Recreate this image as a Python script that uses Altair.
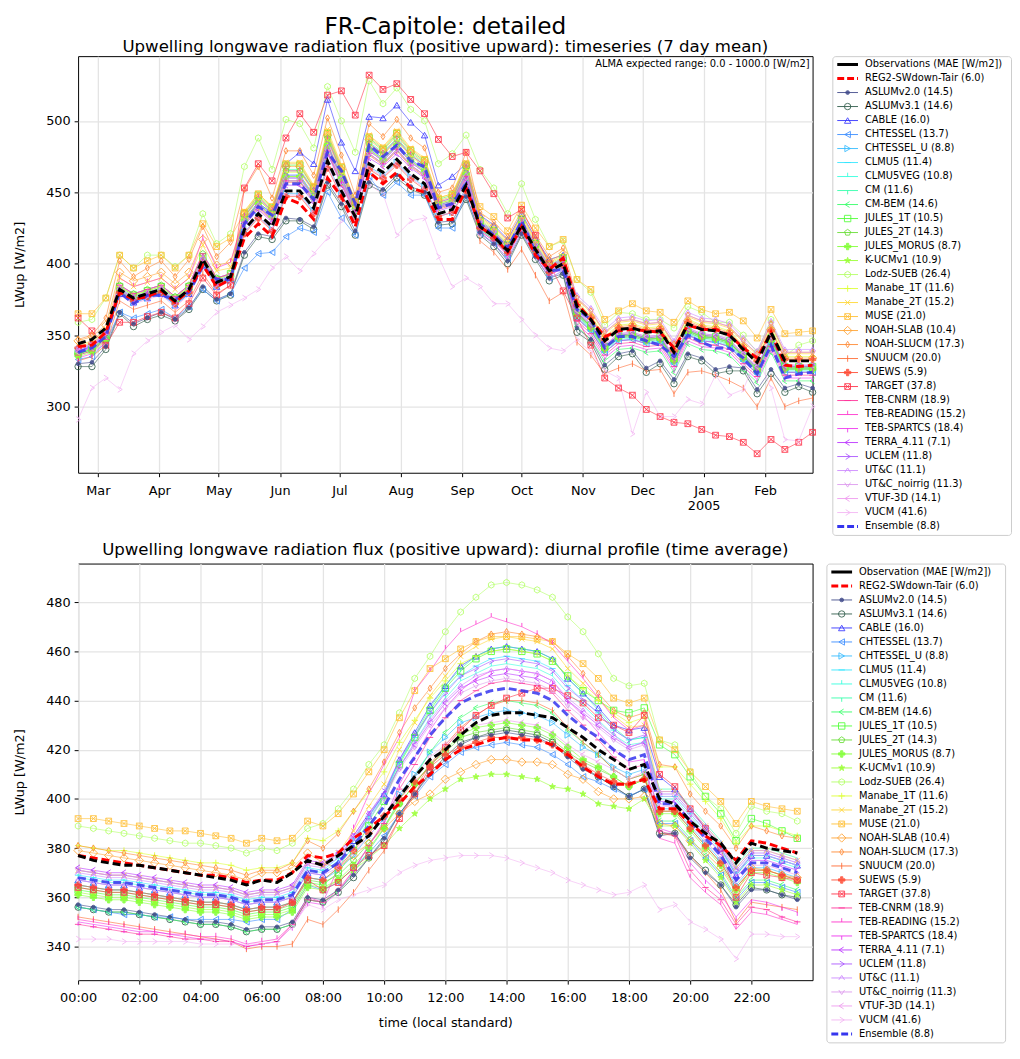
import altair as alt
import pandas as pd

# ---------------- timeseries (7 day means, 54 weeks) ----------------
ts_obs = [344,347,355,382,376,379,382,374,382,403,387,391,424,435,426,451,451,439,472,451,433,470,464,473,463,456,435,438,455,426,419,409,427,410,395,400,370,361,346,354,355,352,353,338,358,354,353,350,340,331,352,332,332,332]
ts_reg2 = [342,343,352,380,375,377,381,373,381,399,384,389,418,428,419,446,442,431,460,447,426,464,456,464,453,450,431,431,453,426,419,408,426,406,396,404,372,361,349,353,354,353,352,341,357,354,354,350,341,334,352,329,328,329]
ts_ens = [338,341,349,380,372,378,378,375,380,398,389,389,428,440,434,456,456,445,478,465,442,483,475,483,472,468,439,442,456,428,420,411,430,408,395,396,368,361,341,349,349,346,343,335,350,345,341,341,334,323,343,320,323,324]
ts_aslum20 = [330,331,342,366,358,362,366,361,369,384,375,379,408,421,419,432,431,426,457,442,423,457,452,462,454,450,429,430,447,422,414,402,421,405,390,393,355,347,329,337,339,327,332,319,337,334,326,328,327,312,326,313,316,313]
ts_aslum31 = [328,328,340,365,356,361,364,360,368,382,374,378,406,419,417,430,430,424,455,440,420,455,450,460,452,448,427,428,445,420,412,400,420,403,388,392,352,345,326,335,337,324,330,316,335,332,323,325,325,309,323,310,314,310]
ts_cable = [339,342,350,379,373,376,379,371,379,399,384,389,430,442,436,470,478,470,515,485,465,503,502,511,499,490,455,461,470,434,427,417,435,418,403,406,365,356,341,349,350,347,348,333,353,349,348,345,335,326,347,327,327,327]
ts_chtessel = [333,335,345,366,362,365,368,362,370,382,374,379,397,407,408,419,425,422,450,432,420,461,448,457,448,448,425,425,448,421,414,404,422,405,390,395,362,353,338,346,347,344,345,330,350,346,345,342,332,323,344,324,324,324]
ts_chtessel_u = [339,342,350,379,373,376,379,371,379,399,384,388,422,433,424,449,449,437,470,449,431,468,462,471,461,454,433,436,453,424,417,407,425,408,393,398,364,355,340,348,349,346,347,332,352,348,347,344,334,325,346,326,326,326]
ts_clmu5 = [338,341,349,382,376,379,382,374,382,403,387,391,431,443,434,462,462,448,484,461,439,481,474,484,473,466,441,444,464,428,421,411,429,412,397,402,362,353,338,346,347,344,345,330,350,346,345,342,332,323,344,324,324,324]
ts_clmu5veg = [337,340,348,381,375,378,381,373,381,402,386,390,430,441,432,460,460,446,482,459,438,479,472,482,471,464,440,443,462,427,420,410,428,411,396,401,363,354,339,347,348,345,346,331,351,347,346,343,333,324,345,325,325,325]
ts_cm = [338,341,349,383,377,380,383,375,383,404,388,392,434,446,437,466,466,452,489,465,441,485,478,488,477,470,443,446,468,429,422,412,430,413,398,403,365,356,341,349,350,347,348,333,353,349,348,345,335,326,347,327,327,327]
ts_cmbem = [337,340,348,380,374,377,380,372,380,401,385,389,428,440,431,458,458,444,479,457,437,477,470,480,469,462,439,442,460,424,417,407,425,408,393,398,356,347,332,340,341,338,339,324,344,340,339,336,326,317,338,318,318,318]
ts_jules1t = [337,340,348,384,378,381,384,376,384,405,389,393,435,448,439,469,469,453,491,467,443,488,480,491,479,472,445,448,469,430,423,413,431,414,399,404,366,357,342,350,351,348,349,334,354,350,349,346,336,327,348,328,328,328]
ts_jules2t = [336,339,347,385,379,382,385,377,385,407,390,393,433,445,436,465,465,451,488,464,440,484,477,487,476,469,442,445,467,429,422,412,430,413,398,403,365,356,341,349,350,347,348,333,353,349,348,345,335,326,347,327,327,327]
ts_julesmorus = [337,340,348,382,376,379,382,374,382,403,387,391,430,442,433,461,461,447,483,460,438,480,473,483,472,465,440,443,463,428,421,411,429,412,397,402,364,355,340,348,349,346,347,332,352,348,347,344,334,325,346,326,326,326]
ts_kucm = [335,338,346,381,375,378,381,373,381,402,386,390,431,442,433,461,461,447,483,460,439,480,473,483,472,465,441,444,463,427,420,410,428,411,396,401,365,356,341,349,350,347,348,333,353,349,348,345,335,326,347,327,327,327]
ts_lodz = [359,361,376,406,397,406,406,398,406,435,414,421,468,488,466,501,498,481,524,500,478,528,512,523,508,500,470,477,490,466,453,435,456,431,412,416,389,380,357,366,365,361,361,355,370,366,359,359,350,338,361,335,343,346]
ts_manabe1t = [342,345,353,384,378,381,384,376,384,405,389,393,432,445,436,464,464,450,486,463,440,483,476,486,475,468,442,445,466,431,424,414,432,415,400,405,373,364,349,357,358,355,356,341,361,357,356,353,343,334,355,335,335,335]
ts_manabe2t = [343,346,354,390,384,387,390,382,390,413,395,397,437,449,440,471,471,455,494,469,444,490,482,493,481,474,446,449,471,432,425,415,433,416,401,406,375,366,351,359,360,357,358,343,363,359,358,355,345,336,357,337,337,337]
ts_muse = [365,365,376,406,397,402,406,397,406,428,412,418,436,449,440,470,470,454,492,468,444,489,481,492,480,473,446,449,470,440,433,423,441,425,412,417,389,382,361,367,372,367,366,359,374,368,365,366,360,348,368,351,352,353]
ts_noahslab = [346,349,357,394,388,391,394,386,394,417,399,401,435,447,438,468,468,453,490,466,442,487,479,490,478,471,444,447,469,433,426,416,434,417,402,407,372,363,348,356,357,354,355,340,360,356,355,352,342,333,354,334,334,334]
ts_noahslucm = [347,350,362,402,391,397,402,391,403,426,405,415,452,468,446,479,479,462,502,476,448,498,489,501,488,481,450,453,478,436,429,419,437,420,405,411,376,367,352,360,361,358,359,344,364,360,359,356,346,337,358,338,338,338]
ts_snuucm = [332,335,343,374,368,371,374,366,374,393,379,385,428,439,430,457,457,444,478,456,436,476,469,479,468,461,438,441,460,416,408,396,410,392,374,380,345,336,323,327,330,325,326,309,324,325,322,318,313,300,320,300,304,306]
ts_suews = [341,344,352,380,374,377,380,372,380,401,385,389,421,432,423,447,447,435,467,447,431,466,460,469,459,452,433,436,451,425,418,408,426,409,394,399,371,362,347,355,356,353,354,339,359,355,354,351,341,332,353,333,333,333]
ts_target = [362,353,343,359,359,363,366,362,372,390,378,385,453,470,458,488,505,492,518,521,504,532,522,526,515,505,487,475,478,465,449,432,438,420,400,381,362,343,320,313,308,298,293,289,288,284,280,279,275,267,277,270,275,282]
ts_tebcnrm = [336,339,347,385,379,382,385,377,385,407,390,393,429,440,431,458,458,445,479,457,437,477,470,480,469,462,439,442,461,423,416,406,424,407,392,397,360,351,336,344,345,342,343,328,348,344,343,340,330,321,342,322,322,322]
ts_tebreading = [338,341,349,390,384,387,390,382,390,418,397,401,433,446,437,465,465,451,487,464,441,484,477,487,476,469,443,446,467,428,421,411,429,412,397,402,362,353,338,346,347,344,345,330,350,346,345,342,332,323,344,324,324,324]
ts_tebspartcs = [334,337,345,385,379,382,385,377,385,407,390,393,430,441,432,460,460,446,482,459,438,479,472,482,471,464,440,443,462,423,416,406,424,407,392,397,358,349,334,342,343,340,341,326,346,342,341,338,328,319,340,320,320,320]
ts_terra = [339,342,350,382,376,379,382,374,382,403,387,391,427,438,429,455,455,443,477,455,435,474,468,477,467,460,437,440,459,426,419,409,427,410,395,400,366,357,342,350,351,348,349,334,354,350,349,346,336,327,348,328,328,328]
ts_uclem = [340,343,351,381,375,378,381,373,381,402,386,390,431,443,434,462,462,448,484,461,439,481,474,484,473,466,441,444,464,429,422,412,430,413,398,403,367,358,343,351,352,349,350,335,355,351,350,347,337,328,349,329,329,329]
ts_utc = [340,343,351,383,377,380,383,375,383,404,388,392,430,441,432,460,460,446,482,459,438,479,472,482,471,464,440,443,462,430,423,413,431,414,399,404,378,369,354,362,363,360,361,346,366,362,361,358,348,339,360,340,340,340]
ts_utcnoirrig = [341,344,352,382,376,379,382,374,382,403,387,391,428,440,431,458,458,444,479,457,437,477,470,480,469,462,439,442,460,429,422,412,430,413,398,403,376,367,352,360,361,358,359,344,364,360,359,356,346,337,358,338,338,338]
ts_vtuf = [338,341,349,378,372,375,378,370,378,398,383,388,422,433,424,448,448,436,468,448,431,467,461,470,460,453,433,436,452,421,414,404,422,405,390,395,367,358,343,351,352,349,350,335,355,351,350,347,337,328,349,329,329,329]
ts_vucm = [291,313,320,312,337,346,352,357,347,356,366,371,376,382,397,405,395,407,418,430,441,455,449,420,430,432,405,384,390,384,372,372,361,350,341,339,347,338,325,320,281,310,293,293,305,302,322,308,312,335,313,277,276,300]

# ---------------- diurnal profile (48 half hours) ----------------
dp_obs = [377,375,374,373,373,372,371,370,369,368,367,365,367,366,370,375,373,377,381,385,393,401,409,416,420,426,431,434,435,435,434,433,429,425,420,416,412,414,400,398,391,386,382,374,382,380,379,378]
dp_reg2 = [377,376,375,374,373,372,371,370,369,369,368,366,367,367,370,377,376,378,384,388,393,398,405,410,416,420,422,424,425,424,424,422,418,413,409,406,406,408,396,396,390,385,381,375,383,382,380,378]
dp_ens = [368,367,366,366,365,364,363,362,361,361,360,358,359,359,361,371,370,374,381,389,397,408,417,426,433,439,442,444,445,444,443,440,434,429,425,420,416,418,398,398,391,384,377,367,374,374,372,370]
dp_aslum20 = [357,356,355,355,354,353,352,351,350,350,349,347,348,348,350,360,359,363,369,376,384,394,402,410,416,422,425,426,427,426,425,422,417,412,409,405,401,404,385,386,376,370,365,356,363,363,361,359]
dp_aslum31 = [356,355,354,354,353,352,351,350,349,349,348,346,347,347,349,359,358,362,368,376,383,394,402,411,417,423,425,427,428,427,426,423,418,413,409,405,401,404,386,386,377,371,365,357,364,363,361,360]
dp_cable = [367,366,365,365,364,363,362,361,360,360,359,357,358,358,360,370,369,374,383,393,402,416,427,438,446,454,458,461,462,461,460,457,449,443,437,430,428,429,409,404,396,388,380,369,377,377,375,373]
dp_chtessel = [356,355,354,353,353,352,352,351,351,351,351,350,351,351,355,365,363,366,372,378,385,394,401,409,414,419,421,422,423,422,421,418,414,409,407,404,401,404,390,390,383,376,369,359,366,366,364,362]
dp_chtessel_u = [365,364,363,363,362,361,360,359,358,358,357,355,356,356,358,368,367,371,377,385,392,402,410,419,425,431,433,435,436,435,434,431,426,421,418,413,410,412,396,396,389,382,375,365,372,372,370,368]
dp_clmu5 = [369,368,367,367,366,365,364,363,362,362,361,359,360,360,362,372,371,376,384,393,402,415,425,435,444,450,454,457,458,457,456,453,446,440,435,428,424,425,401,401,394,387,380,370,377,377,375,373]
dp_clmu5veg = [368,367,366,366,365,364,363,362,361,361,360,358,359,359,361,371,370,375,383,392,401,413,423,433,441,448,451,454,455,454,453,450,443,438,432,426,422,423,400,400,393,386,379,369,376,376,374,372]
dp_cm = [365,364,363,363,362,361,360,359,358,358,357,355,356,356,358,368,367,372,381,391,401,415,426,437,446,453,458,461,462,461,460,457,449,443,436,429,424,425,404,404,397,390,383,373,380,380,378,376]
dp_cmbem = [356,355,354,354,353,352,351,350,349,349,348,346,347,347,349,359,358,362,370,379,388,400,409,419,427,433,437,439,440,439,438,435,428,423,418,412,408,410,391,391,384,377,370,360,367,367,365,363]
dp_jules1t = [363,362,361,361,360,359,358,357,356,356,355,353,354,354,356,366,365,370,379,389,399,414,425,436,445,452,457,460,461,460,459,456,450,444,440,436,435,437,422,418,409,401,394,383,392,390,387,384]
dp_jules2t = [364,363,362,362,361,360,359,358,357,357,356,354,355,355,357,367,366,369,375,382,389,398,406,414,419,425,427,428,429,428,427,424,419,415,412,409,405,408,395,395,388,381,374,364,371,371,369,367]
dp_julesmorus = [361,360,359,359,358,357,356,355,354,354,353,351,352,352,354,364,363,367,373,380,388,398,406,414,420,426,429,430,431,430,429,426,421,416,413,409,405,408,394,394,387,380,373,363,370,370,368,366]
dp_kucm = [362,361,360,360,359,358,357,356,355,355,354,352,353,353,355,365,364,367,371,376,381,388,394,400,404,408,409,410,410,409,408,405,404,402,398,397,396,400,389,389,382,375,368,358,365,365,363,361]
dp_lodz = [389,388,387,386,385,384,383,382,382,381,380,378,380,379,382,388,390,396,404,414,422,435,449,458,468,476,482,487,488,487,485,482,474,468,459,449,446,447,424,422,411,401,396,386,397,395,394,391]
dp_manabe1t = [381,380,379,379,378,377,376,375,374,374,373,371,372,372,374,384,383,387,395,403,411,423,432,441,448,455,458,460,461,460,459,456,450,445,440,435,431,433,413,413,406,399,392,382,389,389,387,385]
dp_manabe2t = [371,370,369,369,368,367,366,365,364,364,363,361,362,362,364,374,373,378,387,397,406,420,431,442,450,458,462,465,466,465,464,461,453,447,441,434,429,430,403,403,396,389,382,372,379,379,377,375]
dp_muse = [392,392,391,390,389,388,387,387,386,385,384,382,384,383,384,391,389,394,402,411,420,433,444,453,457,461,464,466,466,466,465,464,459,455,449,441,439,441,424,420,411,405,399,390,399,397,396,395]
dp_noahslab = [379,378,377,376,375,374,373,372,371,370,369,367,370,370,372,378,374,372,377,382,388,394,399,402,408,411,414,416,416,415,415,414,410,408,403,400,400,401,390,389,383,378,372,362,372,371,369,368]
dp_noahslucm = [381,380,379,378,377,376,375,374,373,372,371,369,371,371,374,383,380,386,395,404,415,427,437,445,453,459,464,467,468,467,466,464,458,451,443,436,433,435,414,413,402,395,389,380,389,387,385,384]
dp_snuucm = [352,351,350,349,348,347,346,345,344,343,342,339,340,340,341,351,349,355,362,371,379,392,404,414,422,429,434,438,440,440,439,436,429,423,418,412,408,410,386,385,377,370,363,350,358,357,356,355]
dp_suews = [365,364,363,363,362,361,360,359,358,358,357,355,356,356,358,368,367,372,379,386,393,400,407,413,418,421,423,425,425,425,424,422,418,414,410,407,406,408,395,395,388,381,374,364,371,371,369,367]
dp_target = [364,363,362,362,361,360,359,358,357,357,356,354,355,355,358,367,363,366,372,377,381,392,402,413,421,428,434,438,441,443,445,445,442,439,433,430,427,434,410,405,396,388,380,360,370,369,368,367]
dp_tebcnrm = [349,348,347,346,345,345,344,343,343,342,342,340,341,342,349,359,358,363,371,381,390,404,414,425,433,440,444,447,448,447,446,443,436,430,424,417,412,414,387,385,371,364,359,349,356,355,352,350]
dp_tebreading = [351,350,349,348,347,346,345,345,344,344,343,341,342,343,349,360,358,372,388,402,414,425,444,452,461,468,471,474,472,470,467,463,456,449,441,433,428,430,384,382,368,362,357,347,354,353,351,349]
dp_tebspartcs = [350,349,348,347,346,346,345,344,343,343,342,340,341,342,348,358,357,362,371,381,391,406,417,428,437,444,449,452,453,452,451,448,440,434,427,420,415,416,388,386,374,367,361,352,359,358,356,354]
dp_terra = [372,371,370,370,369,368,367,366,365,365,364,362,363,363,365,375,374,378,385,394,402,413,422,431,439,445,448,450,451,450,449,446,440,435,430,425,421,423,399,399,392,385,378,368,375,375,373,371]
dp_uclem = [371,370,369,369,368,367,366,365,364,364,363,361,362,362,364,374,373,378,385,394,403,416,426,435,443,450,453,456,457,456,455,452,445,440,435,428,424,426,402,402,395,388,381,371,378,378,376,374]
dp_utc = [370,369,368,368,367,366,365,364,363,363,362,360,361,361,363,373,372,376,384,393,401,413,423,432,440,446,450,452,453,452,451,448,441,436,431,426,421,423,403,403,396,389,382,372,379,379,377,375]
dp_utcnoirrig = [371,370,369,369,368,367,366,365,364,364,363,361,362,362,364,374,373,377,384,392,400,412,421,430,437,443,446,448,449,448,447,444,438,433,429,424,420,422,401,401,394,387,380,370,377,377,375,373]
dp_vtuf = [367,366,365,365,364,363,362,361,360,360,359,357,358,358,360,370,369,372,378,385,392,401,409,417,422,428,430,431,432,431,430,427,422,418,415,412,408,411,397,397,390,383,376,366,373,373,371,369]
dp_vucm = [343,343,343,342,342,342,342,342,341,341,341,341,341,342,348,357,355,359,361,363,365,370,373,375,376,377,377,377,376,374,372,370,367,365,363,361,362,365,355,357,350,347,343,335,345,345,344,344]

# ---------------- series metadata ----------------
model_names = ["ASLUMv2.0","ASLUMv3.1","CABLE","CHTESSEL","CHTESSEL_U","CLMU5","CLMU5VEG","CM","CM-BEM",
               "JULES_1T","JULES_2T","JULES_MORUS","K-UCMv1","Lodz-SUEB","Manabe_1T","Manabe_2T","MUSE",
               "NOAH-SLAB","NOAH-SLUCM","SNUUCM","SUEWS","TARGET","TEB-CNRM","TEB-READING","TEB-SPARTCS",
               "TERRA_4.11","UCLEM","UT&C","UT&C_noirrig","VTUF-3D","VUCM"]
model_mae = ["14.5","14.6","16.0","13.7","8.8","11.4","10.8","11.6","14.6","10.5","14.3","8.7","10.9","26.4",
             "11.6","15.2","21.0","10.4","17.3","20.0","5.9","37.8","18.9","15.2","18.4","7.1","11.8","11.1",
             "11.3","14.1","41.6"]
ts_models = [ts_aslum20, ts_aslum31, ts_cable, ts_chtessel, ts_chtessel_u, ts_clmu5, ts_clmu5veg, ts_cm, ts_cmbem,
             ts_jules1t, ts_jules2t, ts_julesmorus, ts_kucm, ts_lodz, ts_manabe1t, ts_manabe2t, ts_muse,
             ts_noahslab, ts_noahslucm, ts_snuucm, ts_suews, ts_target, ts_tebcnrm, ts_tebreading, ts_tebspartcs,
             ts_terra, ts_uclem, ts_utc, ts_utcnoirrig, ts_vtuf, ts_vucm]
dp_models = [dp_aslum20, dp_aslum31, dp_cable, dp_chtessel, dp_chtessel_u, dp_clmu5, dp_clmu5veg, dp_cm, dp_cmbem,
             dp_jules1t, dp_jules2t, dp_julesmorus, dp_kucm, dp_lodz, dp_manabe1t, dp_manabe2t, dp_muse,
             dp_noahslab, dp_noahslucm, dp_snuucm, dp_suews, dp_target, dp_tebcnrm, dp_tebreading, dp_tebspartcs,
             dp_terra, dp_uclem, dp_utc, dp_utcnoirrig, dp_vtuf, dp_vucm]
model_colors = ["#404a8a","#2e5a48","#3333ff","#3a8cff","#33bbff","#33e6ff","#33ffdd","#33ffaa","#33ff66",
                "#4dff33","#66dd33","#80ff33","#99ff33","#b3ff66","#ddff33","#ffd633","#ffbf33",
                "#ffa333","#ff8833","#ff6a33","#ff4a33","#ff3348","#ff3399","#ff33cc","#ee33ee",
                "#bb33ff","#aa55ff","#cc88ff","#dd99ee","#ee99ee","#f3b5f3"]

P_HLINE = "M-1,0L1,0"
P_TUP = "M0,0L0,-1.2"
P_TDOWN = "M0,0L0,1.2"
P_CL = "M0.6,-0.9L-0.8,0L0.6,0.9"
P_CR = "M-0.6,-0.9L0.8,0L-0.6,0.9"
P_CU = "M-0.9,0.6L0,-0.8L0.9,0.6"
P_CD = "M-0.9,-0.6L0,0.8L0.9,-0.6"
P_PENT = "M0,-1L0.95,-0.31L0.59,0.81L-0.59,0.81L-0.95,-0.31Z"
P_HEX = "M0,-1L0.87,-0.5L0.87,0.5L0,1L-0.87,0.5L-0.87,-0.5Z"
P_PLUSF = "M-0.35,-1L0.35,-1L0.35,-0.35L1,-0.35L1,0.35L0.35,0.35L0.35,1L-0.35,1L-0.35,0.35L-1,0.35L-1,-0.35L-0.35,-0.35Z"
P_STAR = "M0,-1L0.24,-0.33L0.95,-0.31L0.38,0.12L0.59,0.81L0,0.4L-0.59,0.81L-0.38,0.12L-0.95,-0.31L-0.24,-0.33Z"
P_PLUS = "M-1,0L1,0M0,-1L0,1"
P_X = "M-0.8,-0.8L0.8,0.8M-0.8,0.8L0.8,-0.8"
P_BOXX = "M-0.9,-0.9L0.9,-0.9L0.9,0.9L-0.9,0.9ZM-0.9,-0.9L0.9,0.9M-0.9,0.9L0.9,-0.9"
P_THIND = "M0,-1L0.6,0L0,1L-0.6,0Z"
P_VLINE = "M0,-1L0,1"
model_shapes = ["circle","circle","triangle-up","triangle-left","triangle-right",P_HLINE,P_TUP,P_TDOWN,P_CL,
                "square",P_PENT,P_PLUSF,P_STAR,P_HEX,P_PLUS,P_X,P_BOXX,
                "diamond",P_THIND,P_VLINE,P_PLUSF,P_BOXX,P_HLINE,P_TUP,P_TDOWN,
                P_CL,P_CR,P_CU,P_CD,P_CL,P_CR]
filled_models = {"ASLUMv2.0","JULES_MORUS","K-UCMv1","SUEWS"}

hl_names = ["Observations", "REG2-SWdown-Tair", "Ensemble"]
hl_colors = ["#000000", "#ff0000", "#3535ee"]
all_names = hl_names[:2] + model_names + hl_names[2:]
all_colors = hl_colors[:2] + model_colors + hl_colors[2:]
all_fills = hl_colors[:2] + [c if n in filled_models else "transparent" for n, c in zip(model_names, model_colors)] + hl_colors[2:]
all_shapes = ["circle", "circle"] + model_shapes + ["circle"]

start = pd.Timestamp("2004-02-20")
dates = [(start + pd.Timedelta(days=7 * i)).strftime("%Y-%m-%d") for i in range(len(ts_obs))]
hours = [0.5 * k for k in range(len(dp_obs))]


def long_df(xs, names, series_list):
    rows = []
    for n, vals in zip(names, series_list):
        for x, v in zip(xs, vals):
            rows.append({"series": n, "x": x, "v": v})
    return pd.DataFrame(rows)


ts_m = long_df(dates, model_names, ts_models)
ts_h = long_df(dates, hl_names, [ts_obs, ts_reg2, ts_ens])
dp_m = long_df(hours, model_names, dp_models)
dp_h = long_df(hours, hl_names, [dp_obs, dp_reg2, dp_ens])

cscale = alt.Scale(domain=all_names, range=all_colors)
shscale = alt.Scale(domain=all_names, range=all_shapes)
fscale = alt.Scale(domain=all_names, range=all_fills)

SMALL = ["ASLUMv2.0"]
BIG = ["NOAH-SLAB"]
NORMAL = [n for n in model_names if n not in SMALL + BIG]


def point_layers(df, X, Y):
    layers = []
    for group, size in [(NORMAL, 42), (BIG, 72), (SMALL, 14)]:
        layers.append(alt.Chart(df).transform_filter(
            alt.FieldOneOfPredicate(field="series", oneOf=group)).mark_point(
            strokeWidth=1.0, opacity=0.85, filled=False, size=size).encode(
            x=X, y=Y,
            shape=alt.Shape("series:N", scale=shscale, legend=None),
            stroke=alt.Stroke("series:N", scale=cscale, legend=None),
            fill=alt.Fill("series:N", scale=fscale, legend=None)))
    return layers


def plot_panel(dfm, dfh, X, Y, title, extra=None):
    lines = alt.Chart(dfm).mark_line(strokeWidth=0.8, opacity=0.75).encode(
        x=X, y=Y, color=alt.Color("series:N", scale=cscale, legend=None), detail="series:N")
    layers = [lines] + point_layers(dfm, X, Y)
    for n, c, op in [("Ensemble", "#3535ee", 0.85), ("REG2-SWdown-Tair", "#ff0000", 1.0), ("Observations", "#000000", 1.0)]:
        layers.append(alt.Chart(dfh).transform_filter(alt.datum.series == n).mark_line(
            color=c, strokeWidth=3, strokeDash=[8, 4], opacity=op).encode(x=X, y=Y))
    if extra is not None:
        layers.append(extra)
    return alt.layer(*layers).properties(width=744, height=422, title=title,
                                         view=alt.ViewBackground(stroke="black", strokeWidth=1))


def legend_panel(first_label):
    labels = [first_label, "REG2-SWdown-Tair (6.0)"] + [f"{n} ({m})" for n, m in zip(model_names, model_mae)] + ["Ensemble (8.8)"]
    leg = pd.DataFrame({"series": all_names, "label": labels, "idx": list(range(len(all_names)))})
    legm = leg[leg["series"].isin(model_names)]
    yL = alt.Y("idx:Q", scale=alt.Scale(domain=[-0.6, len(all_names) - 0.4], reverse=True, nice=False, zero=False), axis=None)
    rules = [alt.Chart(legm).mark_rule(strokeWidth=1.0, opacity=0.9).encode(
        x=alt.value(5), x2=alt.value(26), y=yL,
        color=alt.Color("series:N", scale=cscale, legend=None))]
    for n, c, dash in [("Observations", "#000000", [1, 0]), ("REG2-SWdown-Tair", "#ff0000", [7, 3]), ("Ensemble", "#3535ee", [7, 3])]:
        rules.append(alt.Chart(leg).transform_filter(alt.datum.series == n).mark_rule(
            strokeWidth=3.2, color=c, strokeDash=dash).encode(x=alt.value(5), x2=alt.value(26), y=yL))
    pts = point_layers(legm, alt.value(15.5), yL)
    txt = alt.Chart(leg).mark_text(align="left", baseline="middle", fontSize=10, color="black").encode(
        x=alt.value(33), y=yL, text="label:N")
    return alt.layer(*(rules + pts + [txt])).properties(
        width=181, height=485,
        view=alt.ViewBackground(stroke="#cccccc", strokeWidth=1, cornerRadius=3, fill="white"))


month_vals = [alt.DateTime(year=2004, month=m, date=1, utc=True) for m in range(3, 13)] + \
             [alt.DateTime(year=2005, month=m, date=1, utc=True) for m in (1, 2)]
X_ts = alt.X("x:T", scale=alt.Scale(type="utc", nice=False,
                                     domain=[alt.DateTime(year=2004, month=2, date=20, utc=True),
                                             alt.DateTime(year=2005, month=2, date=25, utc=True)]),
             axis=alt.Axis(values=month_vals, title=None, labelFlush=False, labelPadding=8,
                           labelExpr="utcmonth(datum.value) == 0 ? ['Jan', '2005'] : utcFormat(datum.value, '%b')"))
Y_ts = alt.Y("v:Q", scale=alt.Scale(domain=[253.7, 545.3], nice=False, zero=False),
             axis=alt.Axis(values=[300, 350, 400, 450, 500], title="LWup [W/m2]"))
X_dp = alt.X("x:Q", scale=alt.Scale(domain=[0, 24], nice=False, zero=False),
             axis=alt.Axis(values=list(range(0, 24, 2)), title="time (local standard)", labelFlush=False,
                           labelPadding=8, titlePadding=12,
                           labelExpr="(datum.value < 10 ? '0' : '') + datum.value + ':00'"))
Y_dp = alt.Y("v:Q", scale=alt.Scale(domain=[326.3, 495.7], nice=False, zero=False),
             axis=alt.Axis(values=list(range(340, 481, 20)), title="LWup [W/m2]"))

note = alt.Chart(pd.DataFrame({"t": ["ALMA expected range: 0.0 - 1000.0 [W/m2]"]})).mark_text(
    align="right", baseline="top", fontSize=10, color="black").encode(
    x=alt.value(741), y=alt.value(3), text="t:N")

top_title = alt.TitleParams(text="FR-Capitole: detailed",
                            subtitle="Upwelling longwave radiation flux (positive upward): timeseries (7 day mean)",
                            fontSize=23.5, subtitleFontSize=16.8, fontWeight="normal", anchor="middle",
                            color="black", subtitleColor="black", subtitlePadding=1, offset=0)
bot_title = alt.TitleParams(text="Upwelling longwave radiation flux (positive upward): diurnal profile (time average)",
                            fontSize=16.8, fontWeight="normal", anchor="middle", color="black", offset=5)

top = plot_panel(ts_m, ts_h, X_ts, Y_ts, top_title, extra=note)
bot = plot_panel(dp_m, dp_h, X_dp, Y_dp, bot_title)

row1 = alt.hconcat(top, legend_panel("Observations (MAE [W/m2])"), spacing=12)
row2 = alt.hconcat(bot, legend_panel("Observation (MAE [W/m2])"), spacing=12)

chart = alt.vconcat(row1, row2, spacing=5).properties(
    padding={"left": 5, "top": 0, "right": 0, "bottom": 2}
).configure(font="DejaVu Sans").configure_axis(
    domain=False, tickColor="black", tickSize=4, labelFontSize=13, titleFontSize=13,
    titleFontWeight="normal", labelColor="black", titleColor="black",
    gridColor="#e4e4e4", gridWidth=1.3, labelPadding=4, titlePadding=19
).configure_view(stroke="black")

chart.save("out.html", embed_options={"renderer": "svg", "actions": False})
